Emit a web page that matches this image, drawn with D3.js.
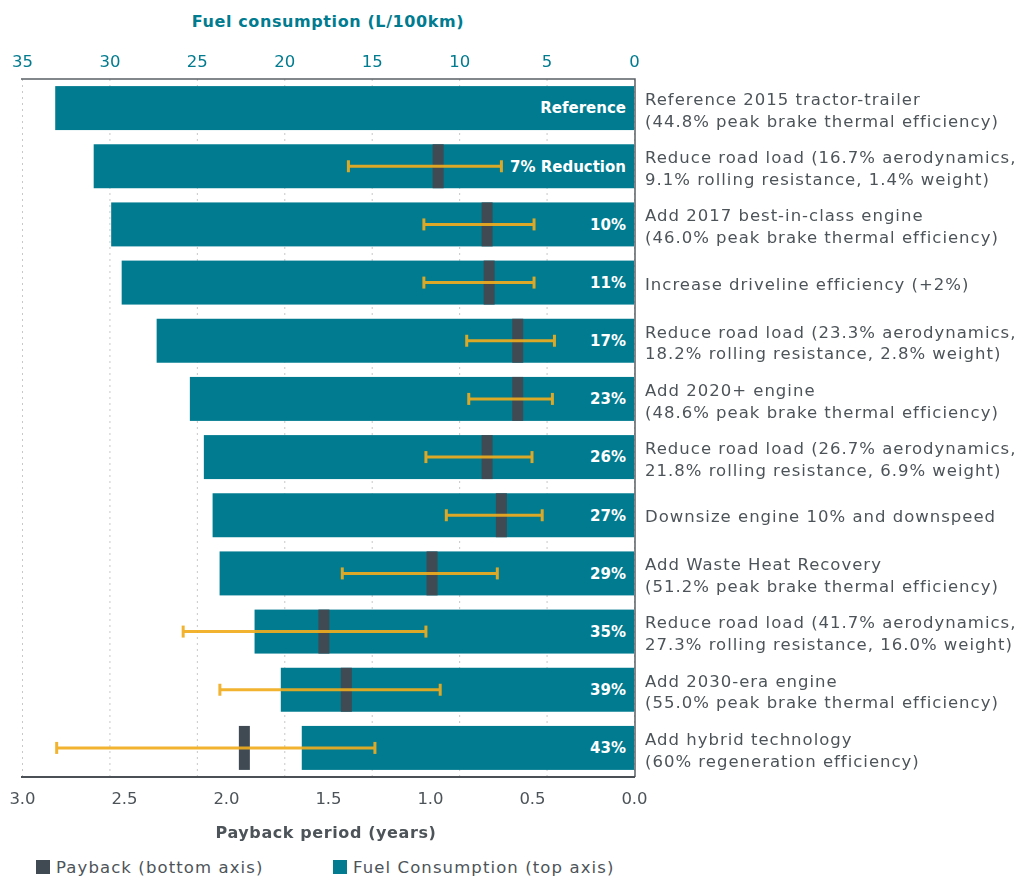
<!DOCTYPE html>
<html lang="en">
<head>
<meta charset="UTF-8">
<title>Tractor-trailer fuel consumption and payback</title>
<script src="https://d3js.org/d3.v7.min.js"></script>
<style>
    body { margin: 0; background: #fff; }
    svg text { font-family: "DejaVu Sans", sans-serif; }
    .grid line { stroke: #c8c8c8; stroke-dasharray: 2,4; }
    .grid .domain { display: none; }
</style>
</head>
<body>
<div id="chart"></div>
<script>
    // technology steps (right-hand labels, one entry per line)
    const steps = [
        ["Reference 2015 tractor-trailer", "(44.8% peak brake thermal efficiency)"],
        ["Reduce road load (16.7% aerodynamics,", "9.1% rolling resistance, 1.4% weight)"],
        ["Add 2017 best-in-class engine", "(46.0% peak brake thermal efficiency)"],
        ["Increase driveline efficiency (+2%)"],
        ["Reduce road load (23.3% aerodynamics,", "18.2% rolling resistance, 2.8% weight)"],
        ["Add 2020+ engine", "(48.6% peak brake thermal efficiency)"],
        ["Reduce road load (26.7% aerodynamics,", "21.8% rolling resistance, 6.9% weight)"],
        ["Downsize engine 10% and downspeed"],
        ["Add Waste Heat Recovery", "(51.2% peak brake thermal efficiency)"],
        ["Reduce road load (41.7% aerodynamics,", "27.3% rolling resistance, 16.0% weight)"],
        ["Add 2030-era engine", "(55.0% peak brake thermal efficiency)"],
        ["Add hybrid technology", "(60% regeneration efficiency)"]
    ];
    const barLabels = ["Reference", "7% Reduction", "10%", "11%", "17%", "23%", "26%", "27%", "29%", "35%", "39%", "43%"];
    // fuel consumption, L/100km (top axis)
    const fuel = [33.1, 30.9, 29.9, 29.3, 27.3, 25.4, 24.6, 24.1, 23.7, 21.7, 20.2, 19.0];
    // payback period, years (bottom axis) with low / high range
    const payback = [null, 0.96, 0.72, 0.71, 0.57, 0.57, 0.72, 0.65, 0.99, 1.52, 1.41, 1.91];
    const paybackLow = [null, 0.65, 0.49, 0.49, 0.39, 0.40, 0.50, 0.45, 0.67, 1.02, 0.95, 1.27];
    const paybackHigh = [null, 1.40, 1.03, 1.03, 0.82, 0.81, 1.02, 0.92, 1.43, 2.21, 2.03, 2.83];
    const fuelTicks = [35, 30, 25, 20, 15, 10, 5, 0];
    const paybackTicks = [3.0, 2.5, 2.0, 1.5, 1.0, 0.5, 0.0];

    const teal = "#007b8f", dark = "#3f4a53", gold = "#f0ad1e", textGray = "#4d5459";

    const W = 1018, H = 877;
    const plot = { left: 22, right: 634, top: 79, bottom: 777 };

    const svg = d3.select("#chart").append("svg")
        .attr("width", W).attr("height", H);

    const xFuel = d3.scaleLinear().domain([35, 0]).range([plot.left, plot.right]);
    const xPay = d3.scaleLinear().domain([3, 0]).range([plot.left, plot.right]);
    const y = d3.scaleBand().domain(d3.range(steps.length))
        .range([plot.top, plot.bottom]).paddingInner(0.244).paddingOuter(0.122);

    // dotted gridlines following the top axis
    svg.append("g").attr("class", "grid")
        .attr("transform", "translate(0," + plot.top + ")")
        .call(d3.axisBottom(xFuel).tickValues(fuelTicks).tickSize(plot.bottom - plot.top).tickFormat(""));

    // fuel consumption bars
    svg.append("g").selectAll("rect")
        .data(fuel)
        .join("rect")
        .attr("x", d => xFuel(d))
        .attr("y", (d, i) => y(i))
        .attr("width", d => xFuel(0) - xFuel(d))
        .attr("height", y.bandwidth())
        .attr("fill", teal);

    // labels inside the bars
    svg.append("g").selectAll("text")
        .data(barLabels)
        .join("text")
        .attr("x", plot.right - 8)
        .attr("y", (d, i) => y(i) + y.bandwidth() / 2)
        .attr("dy", "0.36em")
        .attr("text-anchor", "end")
        .attr("fill", "#fff")
        .style("font-size", "15px")
        .style("font-weight", "700")
        .text(d => d);

    const idx = d3.range(steps.length).filter(i => payback[i] != null);

    // payback markers
    svg.append("g").selectAll("rect")
        .data(idx)
        .join("rect")
        .attr("x", i => xPay(payback[i]) - 5.5)
        .attr("y", i => y(i))
        .attr("width", 11)
        .attr("height", y.bandwidth())
        .attr("fill", dark);

    // payback range bars
    const err = svg.append("g")
        .attr("stroke", gold).attr("stroke-width", 3).attr("opacity", 0.92)
        .selectAll("g").data(idx).join("g")
        .attr("transform", i => "translate(0," + (y(i) + y.bandwidth() / 2) + ")");
    err.append("line")
        .attr("x1", i => xPay(paybackHigh[i])).attr("x2", i => xPay(paybackLow[i]));
    err.append("line")
        .attr("x1", i => xPay(paybackHigh[i])).attr("x2", i => xPay(paybackHigh[i]))
        .attr("y1", -6).attr("y2", 6);
    err.append("line")
        .attr("x1", i => xPay(paybackLow[i])).attr("x2", i => xPay(paybackLow[i]))
        .attr("y1", -6).attr("y2", 6);

    // frame
    svg.append("path")
        .attr("d", `M${plot.left - 1},${plot.top}H${plot.right + 1}V${plot.bottom}`)
        .attr("fill", "none").attr("stroke", "#5a6066").attr("stroke-width", 1.5);
    svg.append("line")
        .attr("x1", plot.left - 1).attr("x2", plot.right + 1)
        .attr("y1", plot.bottom).attr("y2", plot.bottom)
        .attr("stroke", "#4a5056").attr("stroke-width", 2);

    // top axis (fuel)
    const topAxis = svg.append("g")
        .attr("transform", "translate(0," + plot.top + ")")
        .call(d3.axisTop(xFuel).tickValues(fuelTicks).tickSize(0).tickPadding(12).tickFormat(d3.format("d")));
    topAxis.select(".domain").remove();
    topAxis.selectAll("text").attr("fill", teal).style("font-size", "16.5px").style("font-family", "DejaVu Sans");

    svg.append("text")
        .attr("x", 328).attr("y", 27)
        .attr("text-anchor", "middle")
        .attr("fill", teal)
        .style("font-size", "16px").style("font-weight", "700")
        .style("letter-spacing", "0.6px")
        .text("Fuel consumption (L/100km)");

    // bottom axis (payback)
    const botAxis = svg.append("g")
        .attr("transform", "translate(0," + plot.bottom + ")")
        .call(d3.axisBottom(xPay).tickValues(paybackTicks).tickSize(0).tickPadding(15).tickFormat(d3.format(".1f")));
    botAxis.select(".domain").remove();
    botAxis.selectAll("text").attr("fill", textGray).style("font-size", "16.5px").style("font-family", "DejaVu Sans");

    svg.append("text")
        .attr("x", 326).attr("y", 838)
        .attr("text-anchor", "middle")
        .attr("fill", textGray)
        .style("font-size", "16px").style("font-weight", "700")
        .style("letter-spacing", "0.6px")
        .text("Payback period (years)");

    // step descriptions on the right
    const desc = svg.append("g").selectAll("text")
        .data(steps)
        .join("text")
        .attr("x", 645)
        .attr("y", (d, i) => y(i) + y.bandwidth() / 2 + 1)
        .attr("fill", textGray)
        .style("font-size", "16.5px")
        .style("letter-spacing", "1px");
    desc.each(function (lines) {
        const t = d3.select(this);
        const start = lines.length === 1 ? 0.36 : -0.25;
        lines.forEach((s, k) => {
            t.append("tspan")
                .attr("x", 645)
                .attr("dy", (k === 0 ? start : 1.32) + "em")
                .text(s);
        });
    });

    // legend
    const legendItems = [
        { label: "Payback (bottom axis)", color: dark, x: 36 },
        { label: "Fuel Consumption (top axis)", color: teal, x: 333 }
    ];
    const lg = svg.append("g").selectAll("g")
        .data(legendItems)
        .join("g")
        .attr("transform", d => "translate(" + d.x + ",860)");
    lg.append("rect").attr("width", 14).attr("height", 14).attr("fill", d => d.color);
    lg.append("text")
        .attr("x", 20).attr("y", 7).attr("dy", "0.36em")
        .attr("fill", textGray)
        .style("font-size", "16.5px")
        .style("letter-spacing", "1.1px")
        .text(d => d.label);
</script>
</body>
</html>
